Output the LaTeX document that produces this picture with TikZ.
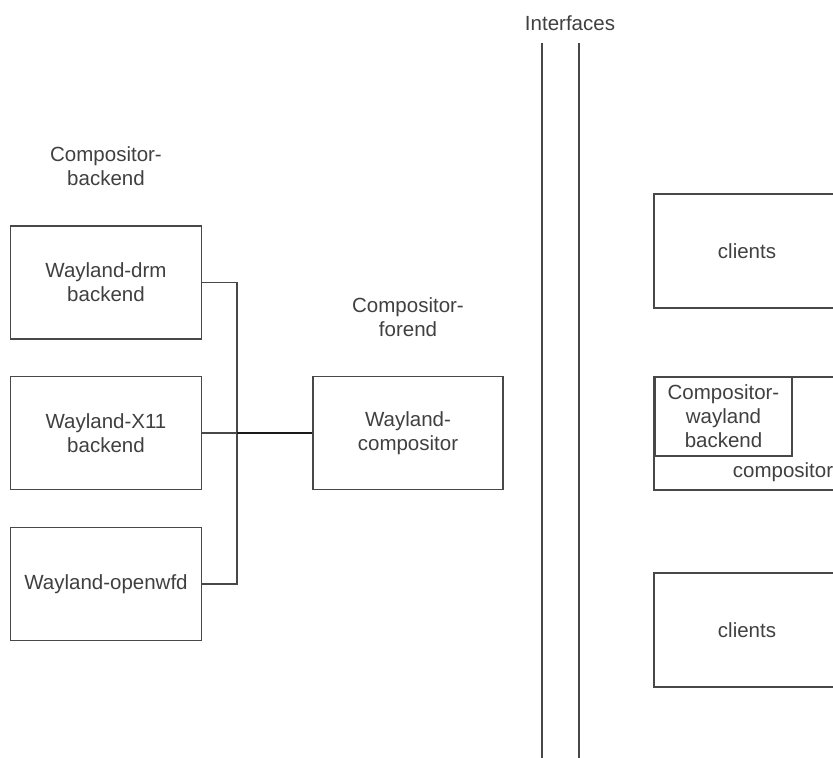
\documentclass[tikz,border=0pt]{standalone}
\usepackage{fontspec}
\setmainfont{Liberation Sans}
\usetikzlibrary{calc}

\definecolor{linegray}{RGB}{72,72,72}
\definecolor{textgray}{RGB}{64,64,64}

\tikzset{
  box/.style={draw=linegray, line width=1.5pt, align=center, text=textgray,
    inner sep=0pt, minimum width=191pt, minimum height=113pt},
  lbl/.style={align=center, text=textgray, inner sep=0pt},
  link/.style={draw=linegray, line width=1.5pt},
  buslink/.style={draw=black!90, line width=2.6pt}
}

\begin{document}
\begin{tikzpicture}[x=1pt, y=-1pt, font=\fontsize{20.5}{24}\selectfont]
  \useasboundingbox (0,0) rectangle (833,758);
  \clip (0,0) rectangle (833,758);

  % backends
  \node[lbl] (backlbl) at (106,166) {Compositor-\\backend};
  \node[box] (drm) at (106,282.5) {Wayland-drm\\backend};
  \node[box] (x11) at (106,433) {Wayland-X11\\backend};
  \node[box] (wfd) at (106,584) {Wayland-openwfd};

  % forend
  \node[lbl] (forelbl) at (408,317) {Compositor-\\forend};
  \node[box, minimum width=190pt] (wc) at (408,433) {Wayland-\\compositor};

  \coordinate (bustop) at (237,282.5);
  \coordinate (busmid) at (237,433);
  \coordinate (busbot) at (237,584);
  \draw[link] (drm.east) -- (bustop) -- (busbot) -- (wfd.east);
  \draw[link] (x11.east) -- (busmid);
  \draw[buslink] (busmid) -- (wc.west);

  % interfaces
  \node[lbl] (iflbl) at (570,23) {Interfaces};
  \coordinate (ifatop) at (542,43);
  \coordinate (ifabot) at (542,760);
  \coordinate (ifbtop) at (579,43);
  \coordinate (ifbbot) at (579,760);
  \draw[link] (ifatop) -- (ifabot);
  \draw[link] (ifbtop) -- (ifbbot);

  % clients side
  \node[box, minimum width=186pt, minimum height=114pt] (cltop) at (747,251) {clients};
  \node[box, minimum width=258pt, minimum height=113pt] (comp) at (783,433.5) {};
  \node[box, minimum width=137pt, minimum height=79pt] (cwb) at (723.5,416.5) {Compositor-\\wayland\\backend};
  \node[lbl] (complbl) at (783,472) {compositor};
  \node[box, minimum width=186pt, minimum height=114pt] (clbot) at (747,630) {clients};
\end{tikzpicture}
\end{document}
